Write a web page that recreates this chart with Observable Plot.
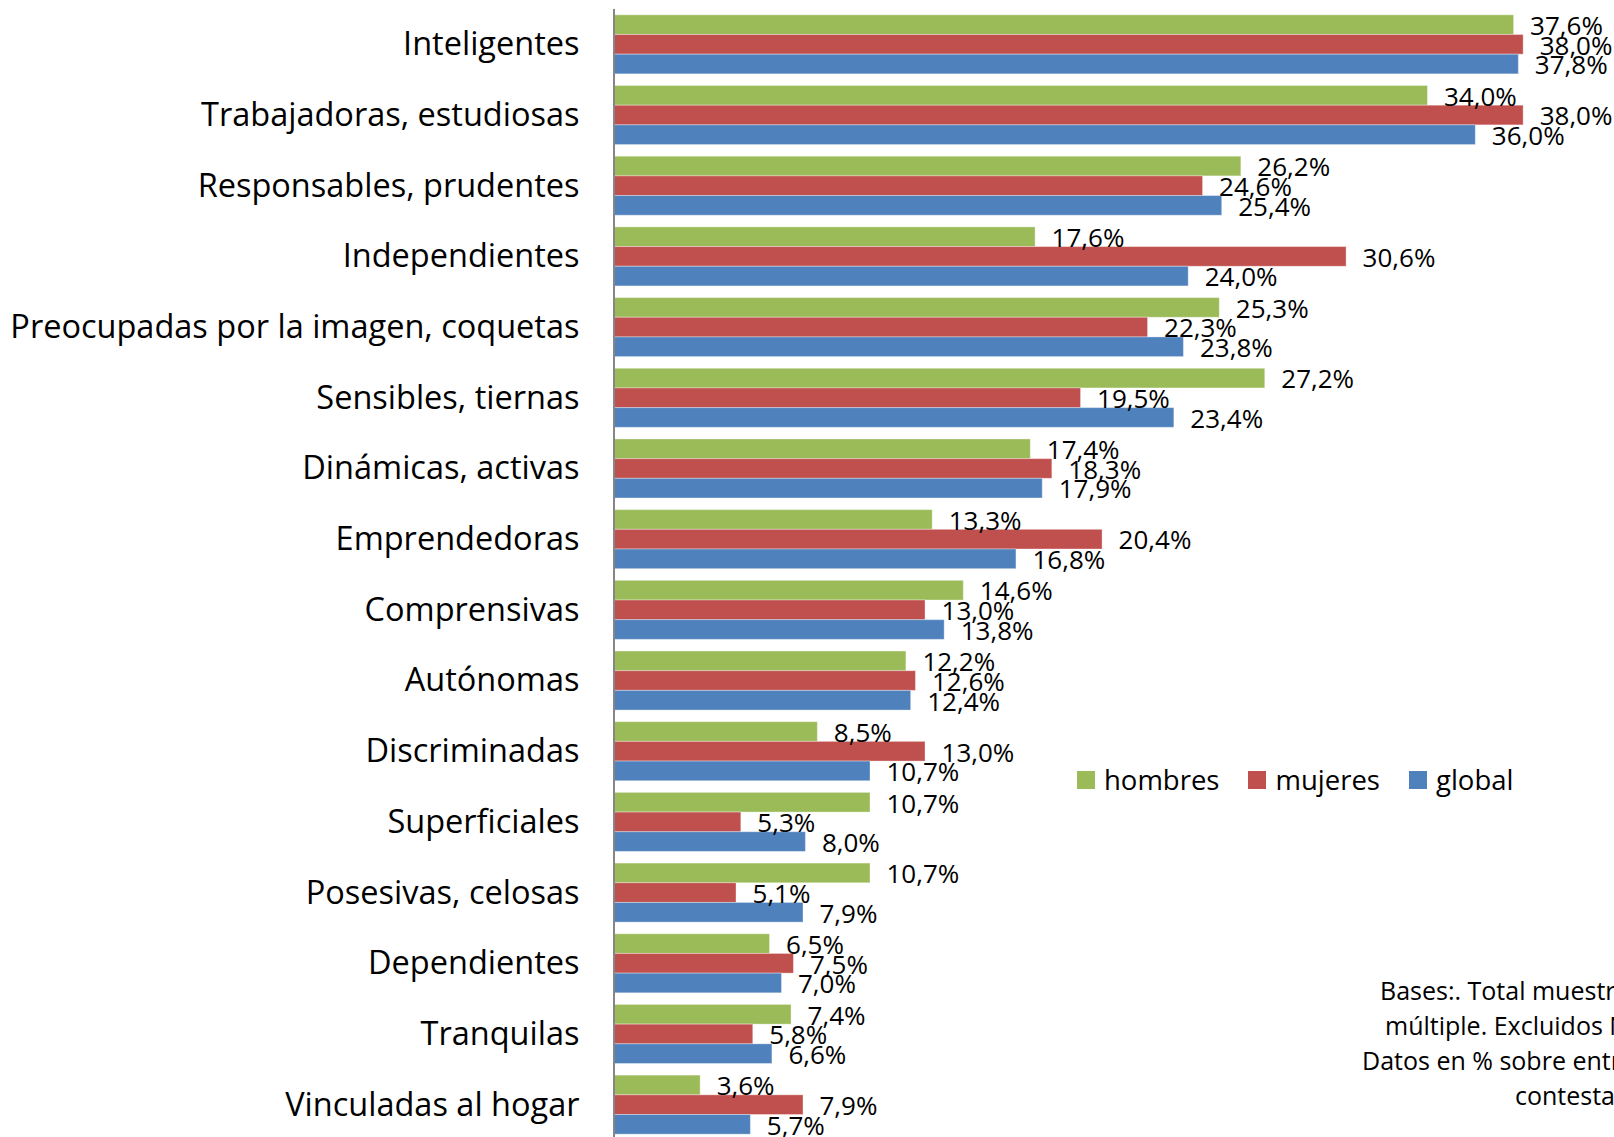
<!DOCTYPE html>
<html>
<head>
<meta charset="utf-8">
<script src="https://cdn.jsdelivr.net/npm/d3@7"></script>
<script src="https://cdn.jsdelivr.net/npm/@observablehq/plot@0.6"></script>
<style>
  html, body { margin: 0; padding: 0; background: #fff; }
  #wrap { position: relative; width: 1614px; height: 1137px; overflow: hidden; font-family: 'Open Sans', sans-serif; }
  #legend { position: absolute; left: 1077px; top: 761px; display: flex; align-items: center; font-size: 27.5px; color: #000; }
  #legend .item { display: flex; align-items: center; margin-right: 29px; }
  #legend .sw { width: 18px; height: 18px; margin-right: 9px; }
</style>
</head>
<body>
<div id="wrap"></div>
<script>
const categories = [
  "Inteligentes",
  "Trabajadoras, estudiosas",
  "Responsables, prudentes",
  "Independientes",
  "Preocupadas por la imagen, coquetas",
  "Sensibles, tiernas",
  "Dinámicas, activas",
  "Emprendedoras",
  "Comprensivas",
  "Autónomas",
  "Discriminadas",
  "Superficiales",
  "Posesivas, celosas",
  "Dependientes",
  "Tranquilas",
  "Vinculadas al hogar"
];
const hombres = [37.6, 34.0, 26.2, 17.6, 25.3, 27.2, 17.4, 13.3, 14.6, 12.2, 8.5, 10.7, 10.7, 6.5, 7.4, 3.6];
const mujeres = [38.0, 38.0, 24.6, 30.6, 22.3, 19.5, 18.3, 20.4, 13.0, 12.6, 13.0, 5.3, 5.1, 7.5, 5.8, 7.9];
const global  = [37.8, 36.0, 25.4, 24.0, 23.8, 23.4, 17.9, 16.8, 13.8, 12.4, 10.7, 8.0, 7.9, 7.0, 6.6, 5.7];
const seriesNames = ["hombres", "mujeres", "global"];
const seriesColors = ["#9BBB59", "#C0504D", "#4F81BD"];
const notaLines = [
  "Bases:. Total muestra. Respuesta",
  "múltiple. Excluidos NS/NC.",
  "Datos en % sobre entrevistados que",
  "contestan"
];

const seriesValues = [hombres, mujeres, global];
const rows = categories.flatMap((c, i) =>
  seriesNames.map((s, j) => ({categoria: c, serie: s, valor: seriesValues[j][i]}))
);
const fmt = v => v.toFixed(1).replace(".", ",") + "%";

const chart = Plot.plot({
  width: 1614,
  height: 1137,
  marginLeft: 614,
  marginRight: 43,
  marginTop: 9,
  marginBottom: -3,
  style: {fontFamily: "'Open Sans', sans-serif", fontSize: "32.5px", color: "#000", background: "white", overflow: "hidden"},
  x: {domain: [0, 40], axis: null},
  y: {domain: seriesNames, axis: null, padding: 0, round: false},
  fy: {domain: categories, axis: "left", paddingInner: 0.165, paddingOuter: 0.0825, round: false, label: null, tickSize: 0, tickPadding: 35},
  color: {domain: seriesNames, range: seriesColors},
  marks: [
    Plot.barX(rows, {fy: "categoria", y: "serie", x: "valor", fill: "serie", stroke: "#ffffff", strokeOpacity: 0.35, strokeWidth: 1}),
    Plot.text(rows, {fy: "categoria", y: "serie", x: "valor", text: d => fmt(d.valor), textAnchor: "start", dx: 16, dy: 1.5, fontSize: 26, fill: "#000"})
  ]
});

const svg = d3.select(chart);
const x0 = chart.scale("x").apply(0);
const fyRange = chart.scale("fy").range;
svg.append("line")
  .attr("x1", x0).attr("x2", x0)
  .attr("y1", fyRange[0]).attr("y2", 1137)
  .attr("stroke", "#868686").attr("stroke-width", 2);

const notaStarts = [1380, 1385, 1362, 1515];
const nota = svg.append("g").attr("font-size", 25).attr("fill", "#000").attr("text-anchor", "start");
notaLines.forEach((t, i) => {
  nota.append("text").attr("text-anchor", "start").attr("x", notaStarts[i]).attr("y", 1000 + i * 35).text(t);
});

const wrap = document.getElementById("wrap");
wrap.appendChild(chart);

const legend = document.createElement("div");
legend.id = "legend";
seriesNames.forEach((s, i) => {
  const item = document.createElement("div");
  item.className = "item";
  const sw = document.createElement("div");
  sw.className = "sw";
  sw.style.background = seriesColors[i];
  const lab = document.createElement("span");
  lab.textContent = s;
  item.appendChild(sw);
  item.appendChild(lab);
  legend.appendChild(item);
});
wrap.appendChild(legend);
</script>
</body>
</html>
